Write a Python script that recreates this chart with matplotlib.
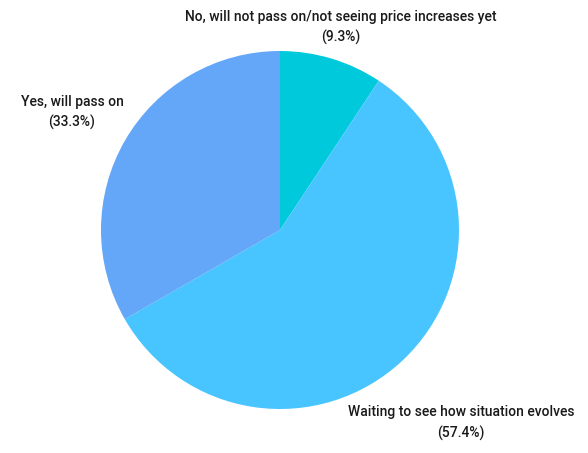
import matplotlib.pyplot as plt

labels = ["No, will not pass on/not seeing price increases yet",
          "Waiting to see how situation evolves",
          "Yes, will pass on"]
shares = [9.3, 57.4, 33.3]
colors = ["#00C9DB", "#48C4FF", "#64A6F8"]

# label centres in pixel coords of the 588x453 image (line 1 / line 2)
label_pos = [(341, 17, 37), (461, 412, 433), (72, 102, 122)]

W, H = 588, 453
cx, cy, r = 280, 230, 179

fig = plt.figure(figsize=(W / 100, H / 100), dpi=100)
ax = fig.add_axes([(cx - r) / W, (H - cy - r) / H, 2 * r / W, 2 * r / H])
ax.pie(shares, colors=colors, startangle=90, counterclock=False, radius=1,
       wedgeprops=dict(linewidth=0))
ax.set_xlim(-1, 1)
ax.set_ylim(-1, 1)
ax.axis("off")

for lab, val, (px, py1, py2) in zip(labels, shares, label_pos):
    for txt, py in ((lab, py1), ("(%.1f%%)" % val, py2)):
        fig.text(px / W, 1 - py / H, txt, ha="center", va="center",
                 fontsize=10, family="Roboto", weight="medium", color="#1a1a1a")

fig.savefig("out.png", dpi=100)
